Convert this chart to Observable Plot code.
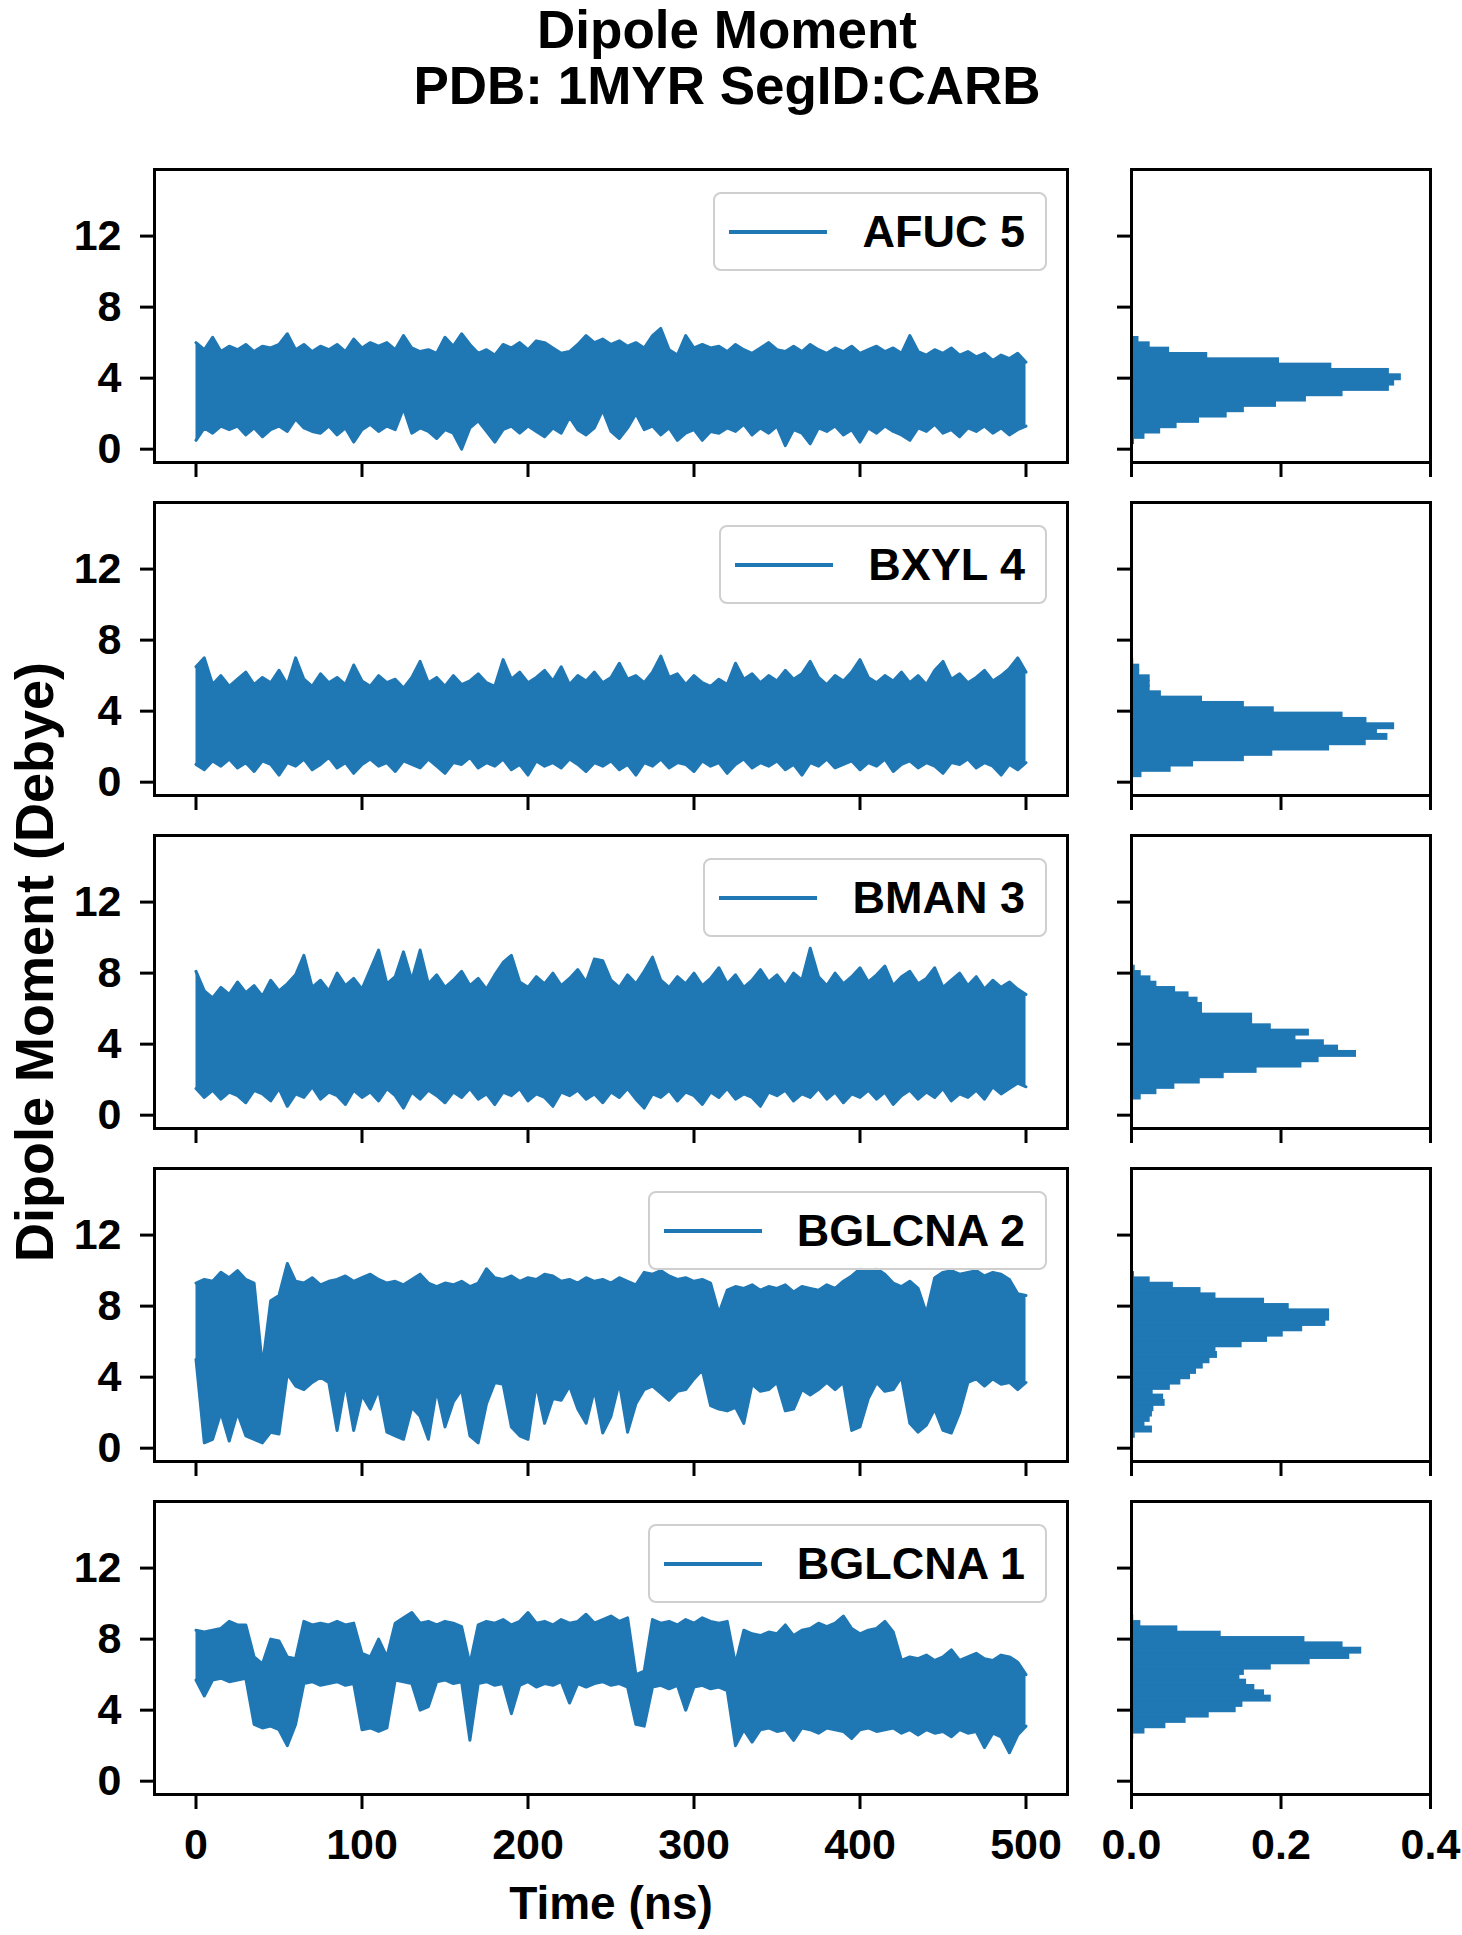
<!DOCTYPE html>
<html><head><meta charset="utf-8">
<script src="https://cdn.jsdelivr.net/npm/d3@7"></script>
<script src="https://cdn.jsdelivr.net/npm/@observablehq/plot@0.6"></script>
<style>
html,body{margin:0;padding:0;background:#fff;}
#fig{position:relative;width:1462px;height:1935px;overflow:hidden;background:#fff;font-family:"Liberation Sans",Arial,Helvetica,sans-serif;}
.title{position:absolute;left:0;width:1454px;height:56px;line-height:56px;font-size:53px;font-weight:bold;text-align:center;color:#000;white-space:nowrap;}
.legend{position:absolute;height:79px;box-sizing:border-box;border:2px solid #cfcfcf;border-radius:8px;background:rgba(255,255,255,0.85);display:flex;align-items:center;padding:0 20px 0 14px;}
.legend .sw{display:inline-block;width:98px;height:4px;background:#1f77b4;margin-right:35px;}
.legend .lb{font-size:45px;font-weight:bold;color:#000;white-space:nowrap;line-height:1;}
</style></head>
<body><div id="fig"></div>
<script>
// ---------------- data ----------------
const titleLines = ["Dipole Moment", "PDB: 1MYR SegID:CARB"];
const xLabel = "Time (ns)";
const yLabel = "Dipole Moment (Debye)";
const seriesNames = ["AFUC 5", "BXYL 4", "BMAN 3", "BGLCNA 2", "BGLCNA 1"];
const timeTicks = [0, 100, 200, 300, 400, 500];
const valueTicks = [0, 4, 8, 12];
const densityTicks = [0, 0.2, 0.4];

const time = [0,5,10,15,20,25,30,35,40,45,50,55,60,65,70,75,80,85,90,95,
100,105,110,115,120,125,130,135,140,145,150,155,160,165,170,175,180,185,190,195,
200,205,210,215,220,225,230,235,240,245,250,255,260,265,270,275,280,285,290,295,
300,305,310,315,320,325,330,335,340,345,350,355,360,365,370,375,380,385,390,395,
400,405,410,415,420,425,430,435,440,445,450,455,460,465,470,475,480,485,490,495,500];

const afuc5Upper = [6.0,5.6,6.3,5.5,5.8,5.6,5.9,5.5,5.8,5.7, 5.9,6.5,5.6,5.9,5.5,5.8,5.6,5.9,5.5,6.2,
5.7,6.0,5.8,6.0,5.6,6.4,5.7,5.5,5.6,5.4, 6.3,5.8,6.5,5.9,5.4,5.6,5.3,5.9,5.7,6.0,
5.6,6.1,6.0,5.7,5.4,5.5,5.9,6.4,6.0,6.2, 5.9,6.1,5.8,6.0,5.7,6.4,6.8,5.6,5.3,6.4,
5.7,5.9,5.7,5.8,5.5,5.9,5.6,5.4,5.7,6.0, 5.6,5.5,5.8,5.5,5.9,5.6,5.4,5.7,5.5,5.8,
5.4,5.6,5.8,5.5,5.7,5.4,6.4,5.5,5.3,5.6, 5.4,5.7,5.3,5.5,5.2,5.4,5.0,5.3,5.1,5.4, 4.9];
const afuc5Lower = [0.5,1.2,0.9,1.3,1.1,1.3,0.8,1.2,0.7,1.1, 1.3,1.0,1.7,1.2,1.0,0.9,1.3,0.8,1.2,0.4,
1.1,1.4,1.0,1.3,1.1,2.3,0.9,1.2,1.0,0.6, 1.1,0.9,0.0,1.2,1.6,1.0,0.4,1.1,1.3,0.9,
1.3,1.0,0.7,1.2,0.9,1.8,1.1,0.8,1.2,2.2, 1.0,0.6,1.2,2.0,1.1,1.3,0.8,1.2,0.5,0.9,
1.1,0.5,1.0,0.9,1.2,1.0,1.4,0.8,1.2,0.9, 1.3,0.2,1.1,0.9,0.3,1.2,1.0,1.3,0.8,1.1,
0.4,1.2,0.9,1.3,1.0,0.8,0.5,1.2,1.0,1.4, 0.9,1.1,0.7,1.2,1.0,1.3,0.9,1.2,0.8,1.1, 1.3];

const bxyl4Upper = [6.5,7.0,5.5,6.0,5.4,5.8,6.2,5.5,5.9,5.6, 6.3,5.5,7.0,5.8,5.4,6.1,5.6,5.9,5.5,6.6,
5.7,5.4,6.0,5.6,5.8,5.3,5.9,6.8,5.6,5.9, 5.4,6.0,5.5,5.7,6.1,5.6,5.4,6.9,5.8,6.2,
5.6,5.9,6.3,5.7,6.5,5.5,6.0,5.7,6.2,5.6, 5.9,6.7,5.8,6.0,5.6,6.2,7.1,5.9,6.1,5.5,
6.0,5.6,5.4,5.8,5.5,6.7,5.8,6.1,5.6,6.0, 5.7,6.3,5.8,6.1,6.8,5.9,5.5,6.0,5.7,6.2,
6.9,5.9,5.6,6.0,5.7,6.2,5.6,6.0,5.5,6.3, 6.8,5.8,6.1,5.6,5.9,6.3,5.7,6.0,6.4,7.0, 6.2];
const bxyl4Lower = [1.0,0.7,1.2,0.9,1.3,0.8,1.1,0.6,1.2,1.0, 0.4,1.1,0.9,1.3,0.7,1.0,1.4,0.8,1.1,0.5,
1.0,1.3,0.9,1.1,0.6,1.2,1.0,0.8,1.3,0.9, 0.5,1.1,1.0,1.4,0.8,1.1,0.9,1.3,0.7,1.0,
0.4,1.2,0.9,1.1,0.8,1.3,1.0,0.6,1.1,0.9, 1.2,0.7,1.0,0.4,1.1,0.9,1.3,0.8,1.1,1.0,
0.6,1.2,0.9,1.1,0.5,1.0,1.3,0.8,1.1,0.9, 1.2,0.7,1.0,0.4,1.1,0.9,1.3,0.8,1.0,1.2,
0.7,1.1,0.9,1.3,0.6,1.0,1.2,0.8,1.1,0.9, 0.5,1.1,1.0,1.3,0.8,1.1,0.9,0.4,1.0,0.7, 1.1];

const bman3Upper = [8.1,7.0,6.6,7.2,6.8,7.5,6.9,7.3,6.7,7.6, 7.0,7.4,7.9,9.0,7.2,7.6,7.0,8.0,7.3,7.7,
7.1,8.2,9.3,7.4,7.8,9.2,7.6,9.3,7.4,7.9, 7.2,7.6,8.1,7.3,7.7,7.1,7.9,8.6,9.0,7.5,
7.2,7.8,7.4,8.0,7.3,7.7,8.2,7.5,8.8,8.7, 7.6,7.2,7.9,7.4,8.1,8.9,7.6,7.2,7.8,7.4,
8.0,7.3,7.7,8.3,7.4,7.9,7.2,7.6,8.2,7.5, 7.9,7.3,8.0,7.6,9.4,7.8,7.3,8.0,7.4,7.8,
8.3,7.5,7.9,8.4,7.3,7.8,8.1,7.4,7.7,8.3, 7.2,7.6,8.0,7.3,7.8,7.1,7.6,7.2,7.5,7.1, 6.8];
const bman3Lower = [1.5,1.0,1.4,0.9,1.3,1.1,0.7,1.4,1.2,0.8, 1.5,0.5,1.2,1.0,1.6,0.9,1.3,1.1,0.6,1.4,
1.0,1.3,0.8,1.5,1.1,0.4,1.3,0.9,1.4,1.1, 0.7,1.3,1.0,1.5,0.9,1.2,0.6,1.3,1.1,1.5,
0.8,1.2,1.0,0.5,1.3,1.1,1.4,0.9,1.2,0.7, 1.3,1.0,1.5,0.9,0.4,1.2,1.0,1.4,0.8,1.3,
1.1,0.6,1.3,1.0,1.5,0.9,1.2,1.0,0.5,1.3, 1.1,1.4,0.8,1.2,1.0,1.5,0.9,1.3,0.7,1.2,
1.0,1.4,0.9,1.3,0.6,1.1,1.4,0.9,1.3,1.0, 1.5,0.8,1.2,1.0,1.4,0.9,1.6,1.2,1.5,1.8, 1.6];

const bglcna2Upper = [9.3,9.5,9.4,9.9,9.6,10.0,9.5,9.3,4.6,8.3, 8.6,10.4,9.4,9.3,9.6,9.2,9.4,9.5,9.7,9.4,
9.6,9.8,9.5,9.3,9.4,9.2,9.5,9.8,9.3,9.1, 9.3,9.2,9.4,9.1,9.3,10.1,9.6,9.5,9.7,9.4,
9.6,9.5,9.8,9.7,9.4,9.5,9.3,9.6,9.4,9.5, 9.3,9.6,9.4,9.2,9.9,9.8,10.0,9.7,9.5,9.6,
9.4,9.5,9.3,7.6,8.9,9.1,9.0,9.2,8.9,9.1, 9.0,9.2,8.8,9.1,9.0,8.9,9.2,9.0,9.4,9.7,
10.1,10.0,10.1,9.8,9.3,9.1,9.4,9.0,7.6,9.6, 9.9,10.0,9.8,9.9,10.0,9.7,9.9,9.8,9.5,8.7, 8.6];
const bglcna2Lower = [5.0,0.3,0.5,2.0,0.4,2.0,0.7,0.5,0.3,0.9, 0.8,4.2,3.5,3.3,3.7,4.0,3.7,1.0,3.7,1.0,
3.0,2.2,3.3,0.9,0.7,0.5,2.3,1.8,0.5,3.3, 1.2,2.6,3.3,0.7,0.3,2.5,3.7,3.6,1.2,0.7,
0.5,3.6,1.4,2.8,2.7,3.5,2.2,1.4,3.3,0.85, 1.8,3.7,0.9,2.5,3.3,3.5,3.1,2.7,3.2,3.3,
3.9,4.4,2.4,2.2,2.1,2.3,1.4,3.6,3.2,3.3, 3.7,2.1,2.2,3.3,3.0,3.3,3.7,3.3,3.7,1.0,
1.2,2.8,3.7,3.2,3.3,4.0,1.4,0.9,1.3,2.2, 1.0,0.85,2.0,3.7,3.9,3.5,3.9,3.6,3.7,3.3, 3.7];

const bglcna1Upper = [8.5,8.4,8.5,8.6,9.0,8.8,8.8,7.0,6.6,8.0, 7.9,7.0,6.9,9.0,8.8,8.9,8.8,9.0,8.8,8.9,
7.2,7.0,8.0,7.0,8.9,9.2,9.5,8.9,9.0,8.8, 9.0,8.9,8.7,6.6,8.8,9.0,8.9,9.1,8.8,9.0,
9.5,8.9,9.0,8.8,9.1,8.9,9.0,9.4,8.9,9.1, 9.3,9.0,9.2,6.0,6.2,9.1,8.9,9.0,8.8,9.1,
8.9,9.2,9.0,8.9,9.0,6.6,8.5,8.3,8.2,8.4, 8.3,8.8,8.2,8.5,8.6,8.9,8.7,8.9,9.3,8.6,
8.3,8.5,8.6,9.0,8.4,6.8,7.0,6.9,7.1,6.8, 7.0,7.4,6.8,7.0,7.2,6.9,6.8,7.1,7.0,6.7, 6.0];
const bglcna1Lower = [5.7,4.8,5.7,5.8,5.6,5.7,5.8,3.2,3.0,3.1, 2.9,2.0,3.2,5.5,5.6,5.4,5.5,5.6,5.4,5.5,
2.9,3.0,2.8,3.0,5.7,5.6,5.5,4.0,4.2,5.6, 5.7,5.5,5.6,2.3,5.5,5.6,5.4,5.5,3.8,5.4,
5.6,5.3,5.5,5.4,5.6,4.4,5.5,5.3,5.5,5.6, 5.4,5.5,5.3,3.2,3.1,5.3,5.4,5.2,5.4,4.0,
5.3,5.4,5.2,5.3,5.1,2.0,2.9,2.2,2.9,3.0, 2.8,2.9,2.3,3.0,2.9,2.7,3.0,2.9,2.8,2.4,
2.9,3.0,2.8,2.9,3.0,2.7,2.9,2.6,2.9,2.7, 2.8,2.5,2.9,2.7,2.8,1.9,2.7,2.5,1.6,2.6, 3.1];

// histogram bins (lower edges, bin width 0.3) and densities
const binLow = [0,0.3,0.6,0.9,1.2,1.5,1.8,2.1,2.4,2.7,3.0,3.3,3.6,3.9,4.2,4.5,4.8,5.1,5.4,5.7,6.0,6.3,6.6,6.9,7.2,7.5,7.8,8.1,8.4,8.7,9.0,9.3,9.6];
const binWidth = 0.3;
const afuc5Hist = [0,0.004,0.018,0.039,0.061,0.091,0.128,0.151,0.194,0.234,0.283,0.345,0.352,0.361,0.345,0.268,0.198,0.102,0.051,0.025,0.010,0,0,0,0,0,0,0,0,0,0,0,0];
const bxyl4Hist = [0.001,0.014,0.053,0.083,0.151,0.189,0.265,0.314,0.343,0.329,0.352,0.315,0.283,0.191,0.151,0.095,0.040,0.025,0.025,0.025,0.011,0.011,0.003,0,0,0,0,0,0,0,0,0,0];
const bman3Hist = [0,0,0.001,0.013,0.034,0.058,0.092,0.124,0.168,0.228,0.251,0.301,0.277,0.258,0.220,0.238,0.187,0.162,0.162,0.095,0.095,0.089,0.077,0.059,0.034,0.026,0.013,0.005,0,0,0,0,0];
const bglcna2Hist = [0,0.002,0.005,0.028,0.018,0.025,0.028,0.030,0.045,0.043,0.029,0.052,0.066,0.079,0.087,0.096,0.105,0.115,0.113,0.148,0.182,0.203,0.229,0.260,0.265,0.265,0.211,0.178,0.113,0.093,0.056,0.025,0.004];
const bglcna1Hist = [0,0,0,0,0,0,0,0.001,0.003,0.018,0.046,0.073,0.104,0.140,0.149,0.187,0.178,0.165,0.154,0.145,0.151,0.187,0.239,0.292,0.308,0.283,0.232,0.120,0.062,0.0125,0.003,0,0];

const uppers = [afuc5Upper, bxyl4Upper, bman3Upper, bglcna2Upper, bglcna1Upper];
const lowers = [afuc5Lower, bxyl4Lower, bman3Lower, bglcna2Lower, bglcna1Lower];
const hists = [afuc5Hist, bxyl4Hist, bman3Hist, bglcna2Hist, bglcna1Hist];

// ---------------- layout / style ----------------
const C0 = "#1f77b4";
const FONT = '"Liberation Sans", Arial, Helvetica, sans-serif';
const fig = document.getElementById("fig");
const frameLeft = 154, mainW = 913, panelH = 293;
const histLeft = 1131, histW = 299;
const firstTop = 169, step = 333;
const mM = {l: 70, r: 12, t: 12, b: 80};
const hM = {l: 40, r: 40, t: 12, b: 80};
const tickStyle = {fontSize: 43, fontWeight: "bold", fontFamily: FONT, strokeWidth: 3, fill: "black", stroke: "black"};

// title (two separate lines)
titleLines.forEach((line, k) => {
  const d = document.createElement("div");
  d.className = "title";
  d.style.top = (2 + k * 56) + "px";
  d.textContent = line;
  fig.appendChild(d);
});

function place(el, left, top) {
  el.style.position = "absolute";
  el.style.left = left + "px";
  el.style.top = top + "px";
  el.style.overflow = "visible";
  fig.appendChild(el);
}

seriesNames.forEach((name, i) => {
  const top = firstTop + i * step;
  const last = i === seriesNames.length - 1;
  const rows = time.map((t, k) => ({t, hi: uppers[i][k], lo: lowers[i][k]}));
  const blank = () => "";

  const main = Plot.plot({
    width: mainW + mM.l + mM.r, height: panelH + mM.t + mM.b,
    marginLeft: mM.l, marginRight: mM.r, marginTop: mM.t, marginBottom: mM.b,
    x: {domain: [-25, 525]},
    y: {domain: [-0.75, 15.75]},
    style: {fontFamily: FONT, color: "black", background: "transparent", overflow: "visible"},
    marks: [
      Plot.areaY(rows, {x: "t", y1: "lo", y2: "hi", fill: C0}),
      Plot.lineY(rows, {x: "t", y: "hi", stroke: C0, strokeWidth: 3, strokeLinejoin: "round", strokeLinecap: "round"}),
      Plot.lineY(rows, {x: "t", y: "lo", stroke: C0, strokeWidth: 3, strokeLinejoin: "round", strokeLinecap: "round"}),
      Plot.frame({stroke: "black", strokeWidth: 3}),
      Plot.axisY({ticks: valueTicks, tickSize: 14, tickPadding: 19, label: null, ...tickStyle}),
      Plot.axisX({ticks: timeTicks, tickSize: 15, tickPadding: 19, label: null,
                  tickFormat: last ? (d => String(d)) : blank, ...tickStyle})
    ]
  });
  place(main, frameLeft - mM.l, top - mM.t);

  const bins = binLow.map((lo, k) => ({lo, hi: lo + binWidth, d: hists[i][k]})).filter(b => b.d > 0);
  const hist = Plot.plot({
    width: histW + hM.l + hM.r, height: panelH + hM.t + hM.b,
    marginLeft: hM.l, marginRight: hM.r, marginTop: hM.t, marginBottom: hM.b,
    x: {domain: [0, 0.4]},
    y: {domain: [-0.75, 15.75]},
    style: {fontFamily: FONT, color: "black", background: "transparent", overflow: "visible"},
    marks: [
      Plot.rect(bins, {x1: () => 0, x2: "d", y1: "lo", y2: "hi", fill: C0,
                       insetLeft: 0, insetRight: 0, insetTop: -0.8, insetBottom: -0.8}),
      Plot.frame({stroke: "black", strokeWidth: 3}),
      Plot.axisY({ticks: valueTicks, tickSize: 14, tickFormat: blank, label: null, ...tickStyle}),
      Plot.axisX({ticks: densityTicks, tickSize: 15, tickPadding: 19, label: null,
                  tickFormat: last ? d3.format(".1f") : blank, ...tickStyle})
    ]
  });
  place(hist, histLeft - hM.l, top - hM.t);

  const lg = document.createElement("div");
  lg.className = "legend";
  lg.style.right = (1462 - (frameLeft + mainW - 20)) + "px";
  lg.style.top = (top + 23) + "px";
  lg.innerHTML = `<span class="sw"></span><span class="lb"></span>`;
  lg.querySelector(".lb").textContent = name;
  fig.appendChild(lg);
});

// axis labels
const ns = "http://www.w3.org/2000/svg";
const over = document.createElementNS(ns, "svg");
over.setAttribute("width", 1462); over.setAttribute("height", 1935);
over.style.position = "absolute"; over.style.left = "0px"; over.style.top = "0px";
over.style.pointerEvents = "none";
function addText(str, attrs) {
  const t = document.createElementNS(ns, "text");
  for (const k in attrs) t.setAttribute(k, attrs[k]);
  t.textContent = str;
  over.appendChild(t);
}
const common = {"font-family": FONT, "font-weight": "bold", "text-anchor": "middle", fill: "black"};
addText(xLabel, {...common, x: 611, y: 1919, "font-size": 46});
addText(yLabel, {...common, transform: "translate(53,962) rotate(-90)", "font-size": 54});
fig.appendChild(over);
</script>
</body></html>
